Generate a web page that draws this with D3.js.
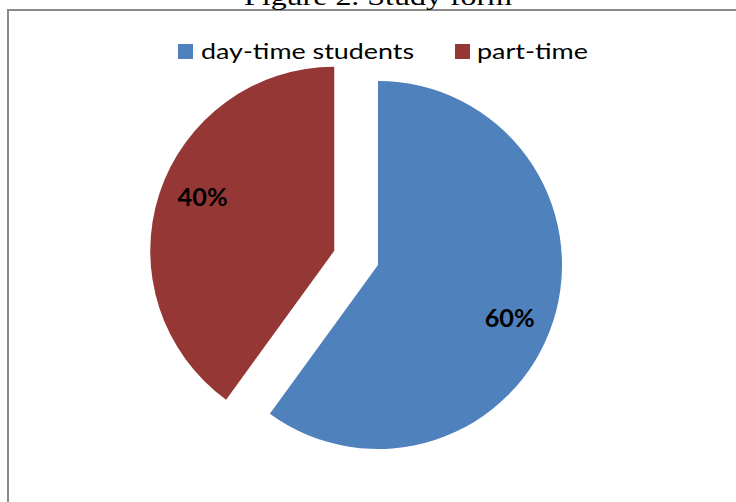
<!DOCTYPE html>
<html>
<head>
<meta charset="utf-8">
<script src="https://cdn.jsdelivr.net/npm/d3@7"></script>
<style>
  html, body { margin: 0; padding: 0; background: #fff; }
  svg { display: block; }
</style>
</head>
<body>
<svg id="chart" width="736" height="502"></svg>
<script>
// Study form of respondents
const categories = ["day-time students", "part-time"];
const shares = [60, 40];
const labels = ["60%", "40%"];
const colors = ["#4F81BD", "#953735"];
const titleText = "Figure 2. Study form";

const svg = d3.select("#chart");
const W = 736, H = 502;

// frame of the chart area
svg.append("rect")
  .attr("x", 8).attr("y", 10)
  .attr("width", 800).attr("height", 600)
  .attr("fill", "none")
  .attr("stroke", "#8a8a8a")
  .attr("stroke-width", 2);

// caption above the frame
svg.append("text")
  .attr("x", 378).attr("y", 5)
  .attr("text-anchor", "middle")
  .attr("font-family", "Liberation Serif, serif")
  .attr("font-size", 26)
  .attr("textLength", 268)
  .attr("lengthAdjust", "spacingAndGlyphs")
  .attr("fill", "#000")
  .text(titleText);

// legend
const legendItems = [
  { sx: 178, tx: 201, tw: 213 },
  { sx: 455, tx: 477, tw: 111 }
];
const legend = svg.append("g");
categories.forEach((c, i) => {
  legend.append("rect")
    .attr("x", legendItems[i].sx).attr("y", 44)
    .attr("width", 15).attr("height", 15)
    .attr("fill", colors[i]);
  legend.append("text")
    .attr("x", legendItems[i].tx).attr("y", 59)
    .attr("font-family", "Lato, 'Open Sans', sans-serif")
    .attr("font-size", 22)
    .attr("textLength", legendItems[i].tw)
    .attr("lengthAdjust", "spacingAndGlyphs")
    .attr("fill", "#000")
    .text(c);
});

// pie
const cx = 378, cy = 265, R = 184;
const explode = [0, 46];
const pie = d3.pie().sort(null).value(d => d)(shares);
const arc = d3.arc().innerRadius(0).outerRadius(R);
const labelR = 142, labelNudge = 4 * Math.PI / 180;

const g = svg.append("g").attr("transform", `translate(${cx},${cy})`);
pie.forEach((p, i) => {
  const mid = (p.startAngle + p.endAngle) / 2;
  const ox = Math.sin(mid) * explode[i];
  const oy = -Math.cos(mid) * explode[i];
  const sg = g.append("g").attr("transform", `translate(${ox},${oy})`);
  sg.append("path")
    .attr("d", arc(p))
    .attr("fill", colors[i]);
  const la = mid + labelNudge;
  sg.append("text")
    .attr("x", Math.sin(la) * labelR)
    .attr("y", -Math.cos(la) * labelR)
    .attr("dy", "0.35em")
    .attr("text-anchor", "middle")
    .attr("font-family", "Lato, 'Open Sans', sans-serif")
    .attr("font-weight", "bold")
    .attr("font-size", 24)
    .attr("textLength", 50)
    .attr("lengthAdjust", "spacingAndGlyphs")
    .attr("fill", "#000")
    .text(labels[i]);
});
</script>
</body>
</html>
